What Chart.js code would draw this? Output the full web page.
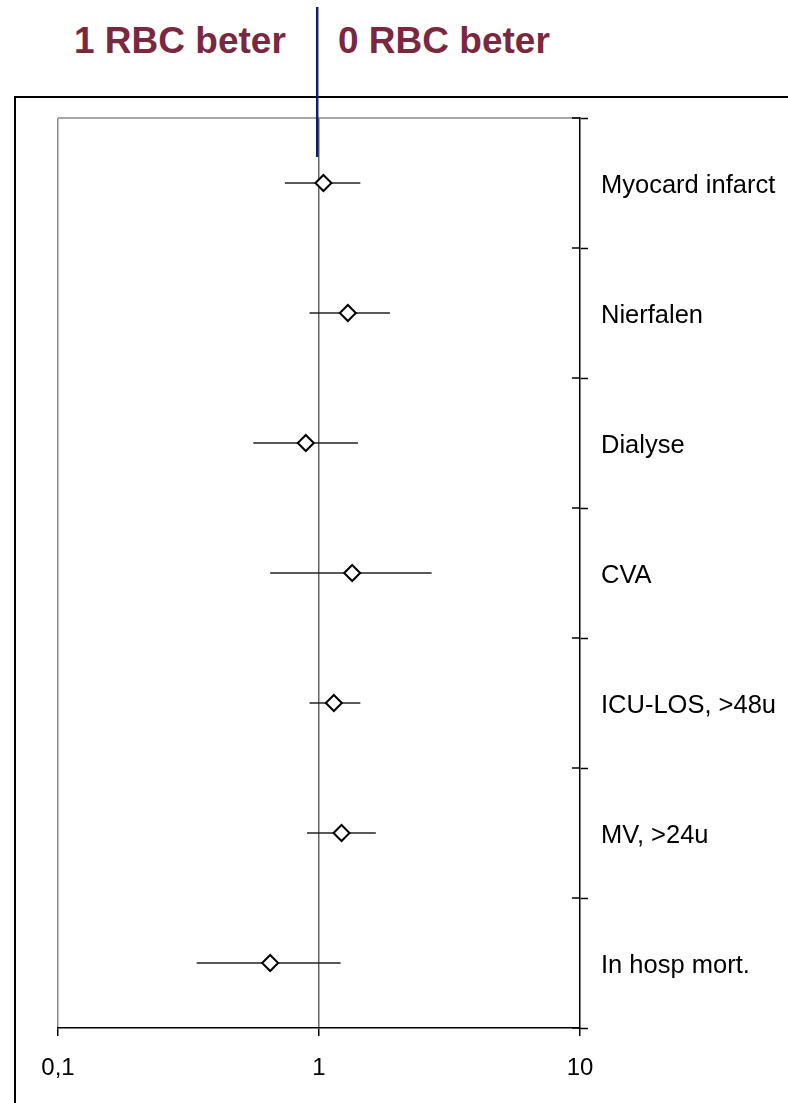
<!DOCTYPE html>
<html><head><meta charset="utf-8">
<script src="https://cdn.jsdelivr.net/npm/chart.js@4.4.1/dist/chart.umd.min.js"></script>
<style>
html,body{margin:0;padding:0;background:#fff;}
#wrap{position:relative;width:788px;height:1103px;overflow:hidden;}
#frame{position:absolute;left:14px;top:96px;right:-10px;bottom:-10px;border-left:2px solid #000;border-top:2px solid #000;}
.title{position:absolute;top:23px;font:bold 37px "Liberation Sans",Arial,sans-serif;color:#7A2840;line-height:36px;white-space:nowrap;}
#cv{position:absolute;left:0;top:0;}
</style></head><body>
<div id="wrap">
<div id="frame"></div>
<div class="title" style="left:74px">1 RBC beter</div>
<div class="title" style="left:338px">0 RBC beter</div>
<canvas id="cv" width="788" height="1103"></canvas>
</div>
<script>
const categories = ['Myocard infarct','Nierfalen','Dialyse','CVA','ICU-LOS, >48u','MV, >24u','In hosp mort.'];
const oddsRatio = [1.04, 1.29, 0.89, 1.34, 1.14, 1.22, 0.65];
const ciLower   = [0.74, 0.92, 0.56, 0.65, 0.92, 0.90, 0.34];
const ciUpper   = [1.44, 1.87, 1.41, 2.70, 1.44, 1.65, 1.21];
const xTickValues = [0.1, 1, 10];
const xTickLabels = ['0,1', '1', '10'];

Chart.defaults.font.family = '"Liberation Sans", Arial, sans-serif';

const extras = {
  id: 'extras',
  beforeDatasetsDraw(chart) {
    const ctx = chart.ctx, xs = chart.scales.x, ys = chart.scales.y, a = chart.chartArea;
    ctx.save();
    ctx.strokeStyle = '#888'; ctx.lineWidth = 1.5;
    ctx.beginPath(); ctx.moveTo(a.left, a.top); ctx.lineTo(a.right, a.top); ctx.stroke();
    ctx.strokeStyle = '#000'; ctx.lineWidth = 1.5;
    for (let i = 0; i <= categories.length; i++) {
      const y = ys.getPixelForValue(i - 0.5);
      ctx.beginPath(); ctx.moveTo(a.right - 8, y); ctx.lineTo(a.right, y); ctx.stroke();
    }
    ctx.strokeStyle = '#222'; ctx.lineWidth = 1.3;
    categories.forEach((c, i) => {
      const y = ys.getPixelForValue(i);
      ctx.beginPath();
      ctx.moveTo(xs.getPixelForValue(ciLower[i]), y);
      ctx.lineTo(xs.getPixelForValue(ciUpper[i]), y);
      ctx.stroke();
    });
    ctx.restore();
  },
  afterDraw(chart) {
    const ctx = chart.ctx, xs = chart.scales.x;
    const x = xs.getPixelForValue(1) - 1.8;
    ctx.save();
    ctx.strokeStyle = '#0B1F6B'; ctx.lineWidth = 2.5;
    ctx.beginPath(); ctx.moveTo(x, 7); ctx.lineTo(x, 157); ctx.stroke();
    ctx.restore();
  }
};

new Chart(document.getElementById('cv'), {
  type: 'scatter',
  data: {
    labels: categories,
    datasets: [{
      data: categories.map((c, i) => ({ x: oddsRatio[i], y: c })),
      pointStyle: 'rectRot',
      pointRadius: 8,
      pointHoverRadius: 8,
      borderWidth: 2,
      borderColor: '#000',
      backgroundColor: '#fff'
    }]
  },
  options: {
    responsive: false,
    devicePixelRatio: 1,
    animation: false,
    layout: { padding: { left: 58, top: 118, right: 0, bottom: 0 } },
    plugins: { legend: { display: false }, tooltip: { enabled: false } },
    scales: {
      x: {
        type: 'logarithmic', position: 'bottom', min: 0.1, max: 10,
        afterBuildTicks: s => { s.ticks = xTickValues.map(v => ({ value: v })); },
        afterFit: s => { s.height = 75; },
        ticks: {
          callback: v => { const k = xTickValues.indexOf(v); return k >= 0 ? xTickLabels[k] : ''; },
          font: { size: 24 }, color: '#000', padding: 18, maxRotation: 0, autoSkip: false
        },
        grid: {
          color: ctx => ctx.tick && ctx.tick.value === 10 ? 'rgba(0,0,0,0)' : (ctx.tick && ctx.tick.value === 1 ? '#666' : '#888'),
          lineWidth: 1.5, drawTicks: true, tickLength: 8, tickColor: '#000', tickWidth: 1.5
        },
        border: { display: true, color: '#000', width: 1.5 }
      },
      y: {
        type: 'category', labels: categories, position: 'right', offset: true,
        afterFit: s => { s.width = 208; },
        grid: { offset: true, drawOnChartArea: false, drawTicks: true, tickLength: 8, tickColor: '#000', tickWidth: 1.5 },
        border: { display: true, color: '#000', width: 1.5 },
        ticks: { font: { size: 25.5 }, color: '#000', padding: 13, crossAlign: 'near', labelOffset: 3 }
      }
    }
  },
  plugins: [extras]
});
</script>
</body></html>
